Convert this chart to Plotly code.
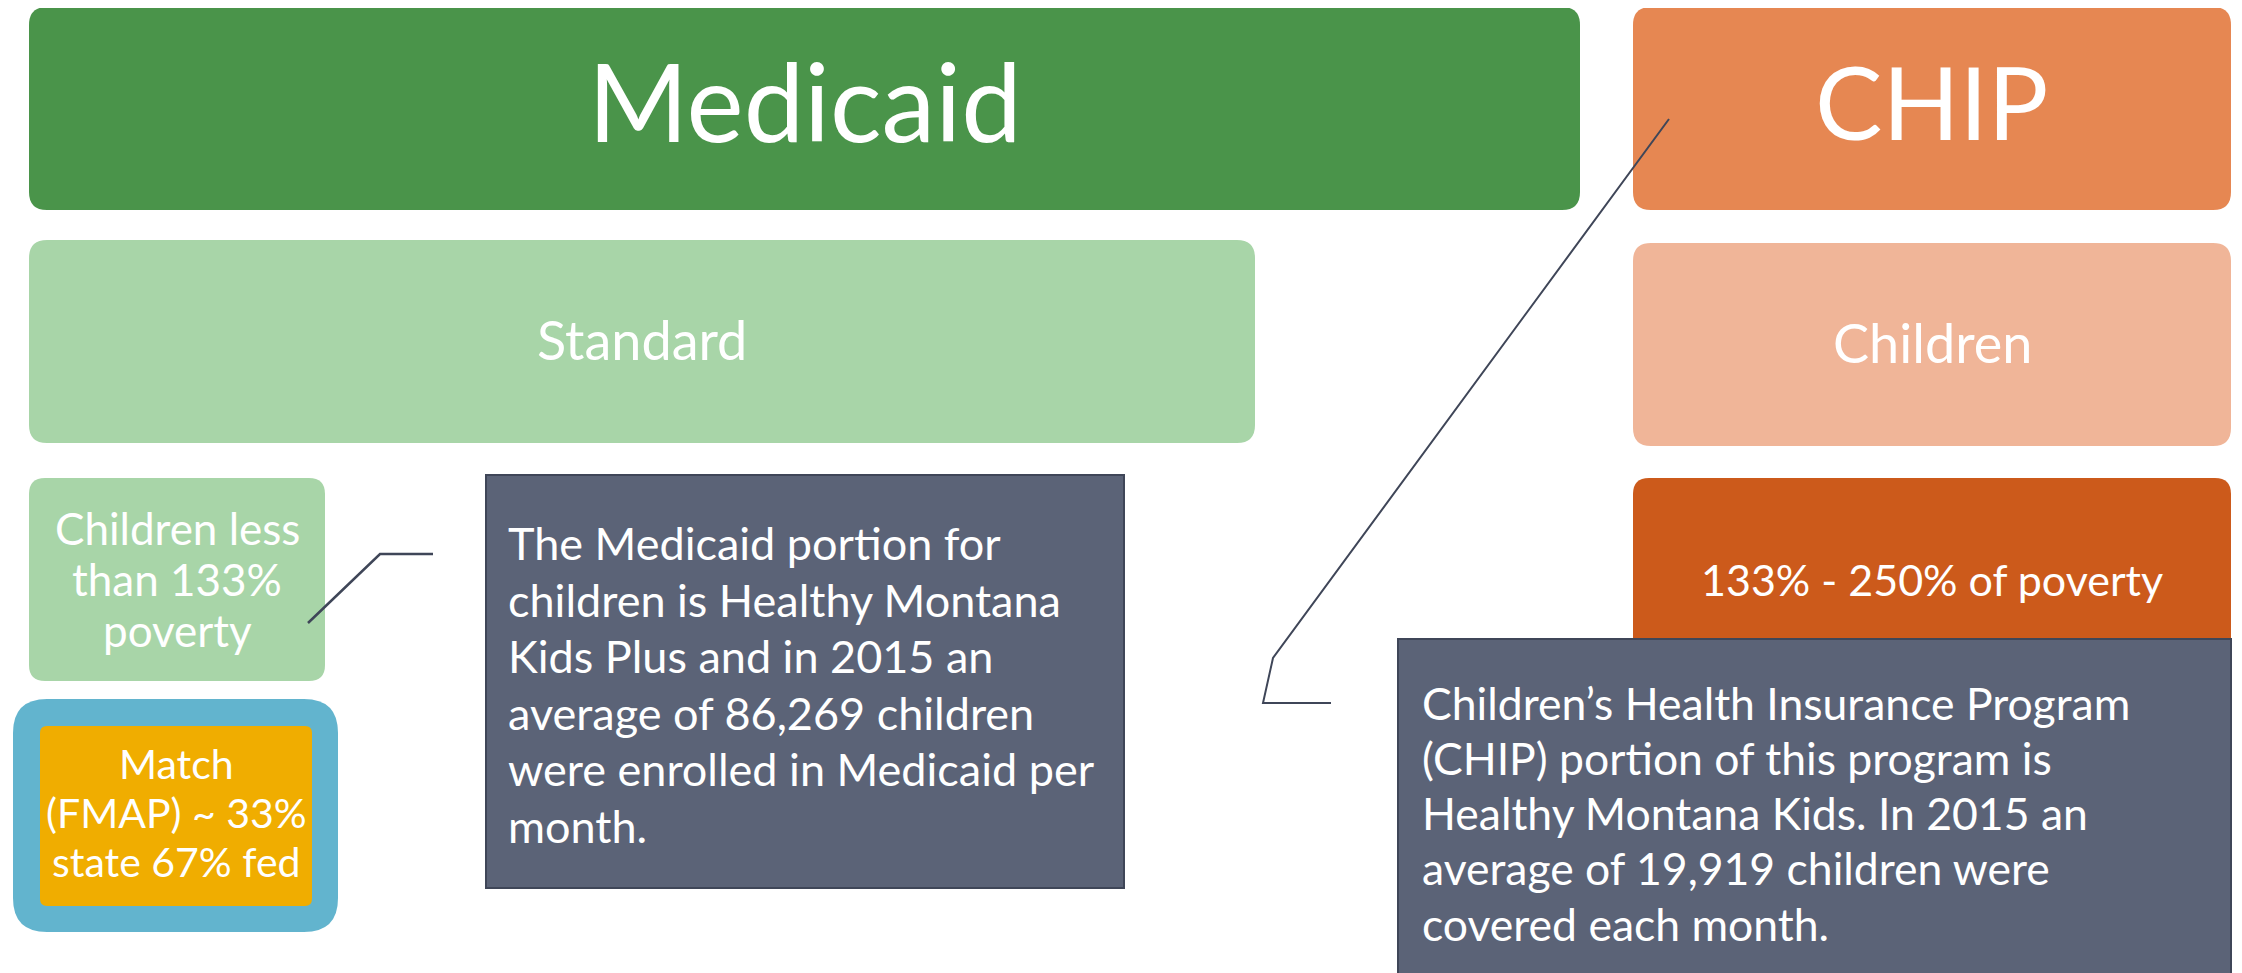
import plotly.graph_objects as go

W, H = 2242, 973
OFF = 8  # page body margin compensation
FONT = "Lato"

# ---- text content ----
header_labels = ["Medicaid", "CHIP"]
tier2_labels = ["Standard", "Children"]
medicaid_child_lines = ["Children less", "than 133%", "poverty"]
match_lines = ["Match", "(FMAP) ~ 33%", "state 67% fed"]
chip_band_label = "133% - 250% of poverty"
medicaid_note_lines = [
    "The Medicaid portion for",
    "children is Healthy Montana",
    "Kids Plus and in 2015 an",
    "average of 86,269 children",
    "were enrolled in Medicaid per",
    "month.",
]
chip_note_lines = [
    "Children\u2019s Health Insurance Program",
    "(CHIP) portion of this program is",
    "Healthy Montana Kids. In 2015 an",
    "average of 19,919 children were",
    "covered each month.",
]

# ---- geometry (pixel space of the page) ----
header_boxes = [(29, 7, 1580, 210), (1633, 7, 2231, 210)]
tier2_boxes = [(29, 240, 1255, 443), (1633, 243, 2231, 446)]
child_box = (29, 478, 325, 681)
match_outer = (13, 699, 338, 932)
match_inner = (40, 726, 312, 906)
band_box = (1633, 478, 2231, 672)
med_note_box = (486, 475, 1124, 888)
chip_note_box = (1398, 639, 2231, 1000)

GREEN_DARK = "#4A944A"
GREEN_LIGHT = "#A8D5A8"
ORANGE = "#E68752"
ORANGE_LIGHT = "#F0B598"
ORANGE_DARK = "#CC5A1B"
SLATE = "#5B6377"
SLATE_EDGE = "#3F4658"
BLUE = "#62B4CE"
GOLD = "#F0AD00"


def rrect(box, r, fill, line_color=None, line_width=0):
    x0, y0, x1, y1 = box
    p = (f"M {x0+r},{y0} L {x1-r},{y0} Q {x1},{y0} {x1},{y0+r} "
         f"L {x1},{y1-r} Q {x1},{y1} {x1-r},{y1} L {x0+r},{y1} "
         f"Q {x0},{y1} {x0},{y1-r} L {x0},{y0+r} Q {x0},{y0} {x0+r},{y0} Z")
    return dict(type="path", path=p, xref="x", yref="y", fillcolor=fill,
                line=dict(color=line_color or fill, width=line_width), layer="above")


shapes = []
shapes.append(rrect(header_boxes[0], 18, GREEN_DARK))
shapes.append(rrect(header_boxes[1], 18, ORANGE))
shapes.append(rrect(tier2_boxes[0], 18, GREEN_LIGHT))
shapes.append(rrect(tier2_boxes[1], 18, ORANGE_LIGHT))
shapes.append(rrect(child_box, 16, GREEN_LIGHT))
shapes.append(rrect(match_outer, 34, BLUE))
shapes.append(rrect(match_inner, 7, GOLD))
shapes.append(rrect(band_box, 16, ORANGE_DARK))
shapes.append(dict(type="rect", xref="x", yref="y", x0=med_note_box[0], y0=med_note_box[1],
                   x1=med_note_box[2], y1=med_note_box[3], fillcolor=SLATE,
                   line=dict(color=SLATE_EDGE, width=2), layer="above"))
shapes.append(dict(type="rect", xref="x", yref="y", x0=chip_note_box[0], y0=chip_note_box[1],
                   x1=chip_note_box[2], y1=chip_note_box[3], fillcolor=SLATE,
                   line=dict(color=SLATE_EDGE, width=2), layer="above"))
# callout lines
shapes.append(dict(type="path", xref="x", yref="y", layer="above",
                   path="M 308,623 L 380,554 L 433,554",
                   line=dict(color=SLATE_EDGE, width=2.5)))
shapes.append(dict(type="path", xref="x", yref="y", layer="above",
                   path="M 1669,119 L 1273,658 L 1263,703 L 1331,703",
                   line=dict(color=SLATE_EDGE, width=2)))

ann = []


def text(x, y, s, size, xanchor="center"):
    ann.append(dict(x=x, y=y, xref="x", yref="y", text=s, showarrow=False,
                    xanchor=xanchor, yanchor="middle",
                    font=dict(family=FONT, size=size, color="white")))


text((header_boxes[0][0] + header_boxes[0][2]) / 2, 100, header_labels[0], 108)
text((header_boxes[1][0] + header_boxes[1][2]) / 2, 101, header_labels[1], 101)
for lab, b in zip(tier2_labels, tier2_boxes):
    text((b[0] + b[2]) / 2, (b[1] + b[3]) / 2 - 2, lab, 54)
for i, s in enumerate(medicaid_child_lines):
    text(177, 528 + 51 * i, s, 44)
for i, s in enumerate(match_lines):
    text(176, 763 + 49 * i, s, 41)
text((band_box[0] + band_box[2]) / 2, 579, chip_band_label, 43)
for i, s in enumerate(medicaid_note_lines):
    text(506, 543 + 56.6 * i, s, 45, "left")
for i, s in enumerate(chip_note_lines):
    text(1420, 702 + 55.3 * i, s, 44.5, "left")

fig = go.Figure()
fig.update_layout(
    width=W - OFF, height=H - OFF, margin=dict(l=0, r=0, t=0, b=0),
    paper_bgcolor="white", plot_bgcolor="white",
    xaxis=dict(range=[OFF, W], visible=False, fixedrange=True),
    yaxis=dict(range=[H, OFF], visible=False, fixedrange=True),
    shapes=shapes, annotations=ann, showlegend=False,
)
fig.write_html("out.html", config={"displayModeBar": False})
